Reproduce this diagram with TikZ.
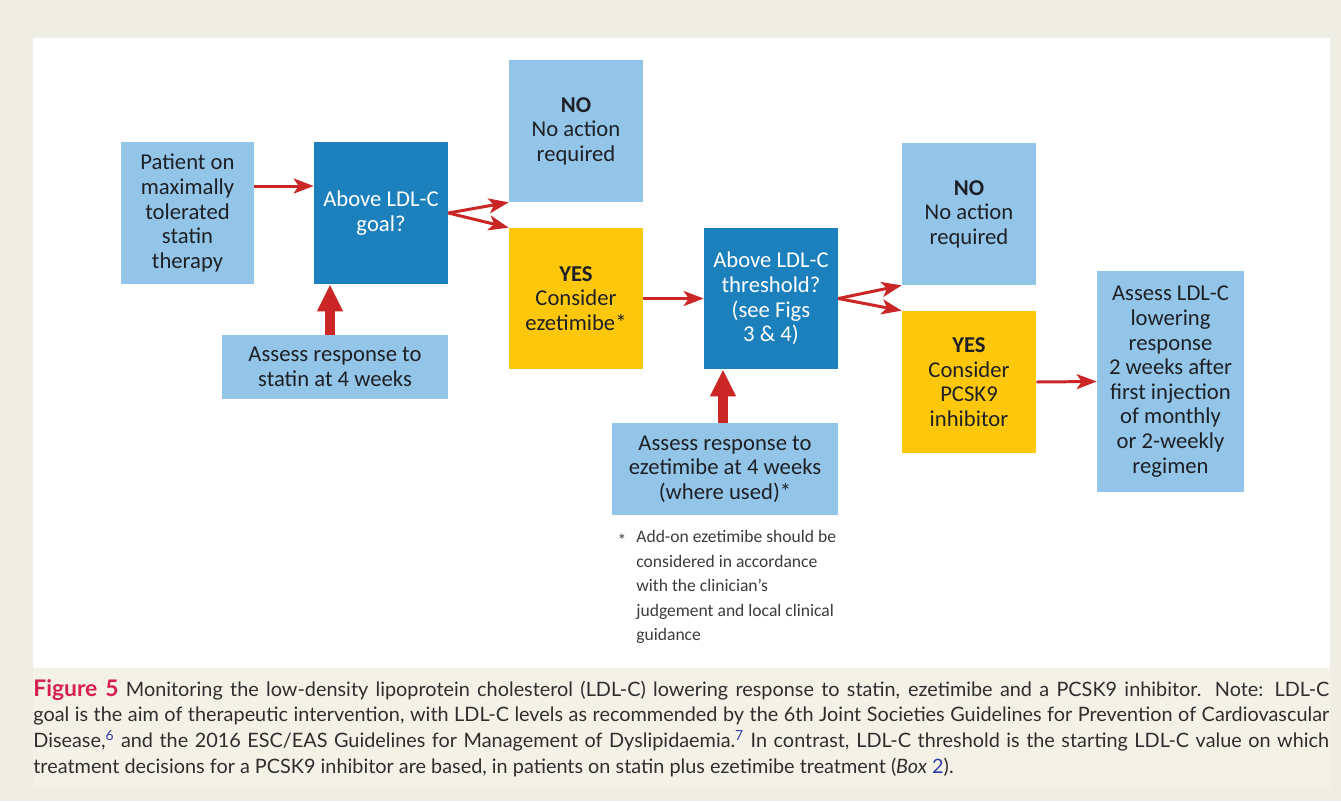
\documentclass[tikz,border=0pt]{standalone}
\usepackage{fontspec}
\setmainfont{Carlito}
\newfontfamily\capfont{Lato}
\usepackage{tikz}
\usetikzlibrary{arrows.meta}
\usetikzlibrary{calc}

\definecolor{lightbox}{RGB}{147,197,232}
\definecolor{darkbox}{RGB}{27,128,188}
\definecolor{yesbox}{RGB}{253,200,12}
\definecolor{arrowred}{RGB}{202,38,38}
\definecolor{pagebg}{RGB}{238,238,228}
\definecolor{capbg}{RGB}{244,242,231}
\definecolor{figred}{RGB}{214,32,78}
\definecolor{reflink}{RGB}{50,60,170}
\definecolor{boxtext}{RGB}{30,32,38}
\definecolor{notetext}{RGB}{60,60,60}

\begin{document}
\begin{tikzpicture}[
    x=0.02cm, y=-0.02cm,
    box/.style={fill=lightbox, text=boxtext, align=center, inner sep=0pt,
                font=\fontsize{12.9}{14}\selectfont},
    decision/.style={box, fill=darkbox, text=white},
    yes box/.style={box, fill=yesbox},
    flow/.style={-{Stealth[length=0.4cm, width=0.3cm, inset=0.1cm]}, arrowred, line width=1.7pt},
    big flow/.style={-{Triangle[length=0.54cm, width=0.48cm]}, arrowred, line width=5.7pt},
    every node/.style={color=black}
    ]
   % page and panels
   \useasboundingbox[fill=pagebg] (0,0) rectangle (1341,801);
   \fill[white] (33,38) rectangle (1330,668);
   \fill[capbg] (33,668) rectangle (1330,788);
   % first decision
   \node[box, minimum width=2.66cm, minimum height=2.84cm] (patient) at (187.5,213)
      {Patient on\\maximally\\tolerated\\statin\\therapy};
   \node[decision, minimum width=2.68cm, minimum height=2.84cm] (goal) at (381,213)
      {Above LDL-C\\goal?};
   \node[box, minimum width=4.52cm, minimum height=1.28cm] (statin) at (335,367)
      {Assess response to\\statin at 4 weeks};
   \node[box, minimum width=2.68cm, minimum height=2.84cm] (no1) at (576,131)
      {\textbf{NO}\\No action\\required};
   \node[yes box, minimum width=2.68cm, minimum height=2.82cm] (yes1) at (576,298.5)
      {\textbf{YES}\\Consider\\ezetimibe*};
   % second decision
   \node[decision, minimum width=2.68cm, minimum height=2.82cm] (thresh) at (771,298.5)
      {Above LDL-C\\threshold?\\(see Figs\\3 \& 4)};
   \node[box, minimum width=4.52cm, minimum height=1.84cm] (ezet) at (725,469)
      {Assess response to\\ezetimibe at 4 weeks\\(where used)*};
   \node[box, minimum width=2.68cm, minimum height=2.84cm] (no2) at (969,214)
      {\textbf{NO}\\No action\\required};
   \node[yes box, minimum width=2.68cm, minimum height=2.84cm] (yes2) at (969,382)
      {\textbf{YES}\\Consider\\PCSK9\\inhibitor};
   \node[box, minimum width=2.94cm, minimum height=4.42cm] (lowering) at (1170.5,381.5)
      {Assess LDL-C\\lowering\\response\\2 weeks after\\first injection\\of monthly\\or 2-weekly\\regimen};
   % arrows
   \draw[flow] ([yshift=0.54cm]patient.east) -- ([yshift=0.54cm]goal.west);
   \draw[flow] (goal.east) -- (no1.south west);
   \draw[flow] (goal.east) -- (yes1.north west);
   \draw[big flow] ([xshift=-0.1cm]statin.north) -- ([xshift=-0.1cm]statin.north |- goal.south);
   \draw[flow] (yes1.east) -- (thresh.west);
   \draw[flow] (thresh.east) -- (no2.south west);
   \draw[flow] (thresh.east) -- (yes2.north west);
   \draw[big flow] ([xshift=-0.04cm]ezet.north) -- ([xshift=-0.04cm]ezet.north |- thresh.south);
   \draw[flow] (yes2.east) -- (lowering.west);
   % footnote
   \node[text=notetext, font=\fontsize{10}{14}\selectfont] (star) at (622,540) {*};
   \node[anchor=north west, align=left, inner sep=0pt, text=notetext,
         font=\fontsize{10}{13.95}\selectfont] (note) at (636,530)
      {Add-on ezetimibe should be\\considered in accordance\\with the clinician’s\\judgement and local clinical\\guidance};
   % caption
   \node[anchor=north west, text width=25.92cm, align=justify, inner sep=0pt,
         font=\capfont\fontsize{11.3}{14.6}\selectfont, text=black!82] (caption) at (33,679)
      {{\color{figred}\bfseries\fontsize{13}{14.6}\selectfont Figure 5} Monitoring the low-density lipoprotein cholesterol (LDL-C) lowering response to statin, ezetimibe and a PCSK9 inhibitor. Note: LDL-C\linebreak
       goal is the aim of therapeutic intervention, with LDL-C levels as recommended by the 6th Joint Societies Guidelines for Prevention of Cardiovascular\linebreak
       Disease,\textsuperscript{\color{reflink}6} and the 2016 ESC/EAS Guidelines for Management of Dyslipidaemia.\textsuperscript{\color{reflink}7} In contrast, LDL-C threshold is the starting LDL-C value on which\linebreak
       treatment decisions for a PCSK9 inhibitor are based, in patients on statin plus ezetimibe treatment (\textit{Box} {\color{reflink}2}).};
\end{tikzpicture}
\end{document}
